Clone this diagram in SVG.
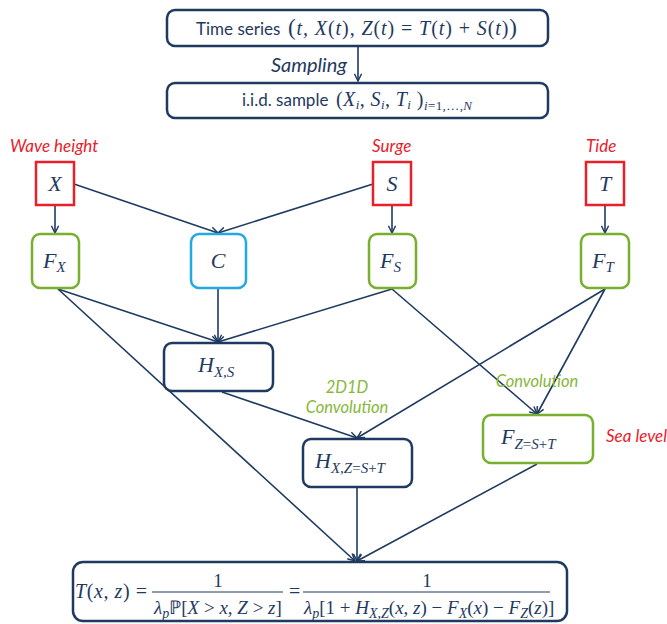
<svg xmlns="http://www.w3.org/2000/svg" width="667" height="624" viewBox="0 0 667 624">
<style>
.nv{fill:#fff;stroke:#1f3a60;stroke-width:2.5}
.rd{fill:#fff;stroke:#e8202a;stroke-width:2.5}
.gr{fill:#fff;stroke:#77b02e;stroke-width:2.5}
.bl{fill:#fff;stroke:#22a8e2;stroke-width:2.5}
.tx{font-family:Lato,"Liberation Sans",sans-serif;fill:#1f3a60}
.m{font-family:"Liberation Serif",serif;font-style:italic;fill:#1f3a60}
.mu{font-family:"Liberation Serif",serif;fill:#1f3a60}
.lr{font-family:Lato,"Liberation Sans",sans-serif;font-style:italic;fill:#e8202a;font-size:17px}
.lg{font-family:Lato,"Liberation Sans",sans-serif;font-style:italic;fill:#86b83a;font-size:16.5px}
.c{stroke:#1f3a60;stroke-width:1.6;fill:none;marker-end:url(#ah)}
</style>
<defs>
<marker id="ah" viewBox="0 0 10 10" refX="9" refY="5" markerWidth="9" markerHeight="9" markerUnits="userSpaceOnUse" orient="auto">
<path d="M1,1 L9,5 L1,9" fill="none" stroke="#1f3a60" stroke-width="1.6"/>
</marker>
</defs>
<rect width="667" height="624" fill="#fff"/>
<g id="connectors">
<line class="c" x1="358" y1="46" x2="358" y2="81"/>
<line class="c" x1="55" y1="206" x2="55" y2="233"/>
<line class="c" x1="74" y1="184" x2="218" y2="233"/>
<line class="c" x1="373" y1="184" x2="218" y2="233"/>
<line class="c" x1="392" y1="206" x2="392" y2="233"/>
<line class="c" x1="605" y1="206" x2="605" y2="233"/>
<line class="c" x1="218" y1="289" x2="218" y2="342"/>
<line class="c" x1="58" y1="289" x2="218" y2="342"/>
<line class="c" x1="392" y1="289" x2="218" y2="342"/>
<line class="c" x1="58" y1="289" x2="355" y2="561"/>
<line class="c" x1="392" y1="289" x2="537" y2="414"/>
<line class="c" x1="605" y1="289" x2="537" y2="414"/>
<line class="c" x1="605" y1="289" x2="357" y2="438"/>
<line class="c" x1="222" y1="392" x2="357" y2="438"/>
<line class="c" x1="357" y1="488" x2="357" y2="561"/>
<line class="c" x1="537" y1="464" x2="357" y2="561"/>
</g>
<text class="lg" x="309" y="72" style="fill:#1f3a60;font-size:20px" text-anchor="middle">Sampling</text>
<g id="timeseries">
<rect class="nv" x="167" y="10" width="381" height="36" rx="8"/>
<text class="tx" x="196" y="35" font-size="17">Time series</text>
<text x="288" y="35" textLength="229" lengthAdjust="spacing"><tspan class="mu" font-size="23">(</tspan><tspan class="m" font-size="20">t, X</tspan><tspan class="mu" font-size="20">(</tspan><tspan class="m" font-size="20">t</tspan><tspan class="mu" font-size="20">),</tspan><tspan class="m" font-size="20"> Z</tspan><tspan class="mu" font-size="20">(</tspan><tspan class="m" font-size="20">t</tspan><tspan class="mu" font-size="20">) = </tspan><tspan class="m" font-size="20">T</tspan><tspan class="mu" font-size="20">(</tspan><tspan class="m" font-size="20">t</tspan><tspan class="mu" font-size="20">) + </tspan><tspan class="m" font-size="20">S</tspan><tspan class="mu" font-size="20">(</tspan><tspan class="m" font-size="20">t</tspan><tspan class="mu" font-size="20">)</tspan><tspan class="mu" font-size="23">)</tspan></text>
</g>
<g id="sample">
<rect class="nv" x="167" y="83" width="381" height="35" rx="8"/>
<text class="tx" x="242" y="106" font-size="17">i.i.d. sample</text>
<text x="336" y="106" textLength="136" lengthAdjust="spacing"><tspan class="mu" font-size="20">(</tspan><tspan class="m" font-size="20">X</tspan><tspan class="m" font-size="13" dy="3">i</tspan><tspan class="mu" font-size="20" dy="-3">, </tspan><tspan class="m" font-size="20">S</tspan><tspan class="m" font-size="13" dy="3">i</tspan><tspan class="mu" font-size="20" dy="-3">, </tspan><tspan class="m" font-size="20">T</tspan><tspan class="m" font-size="13" dy="3">i</tspan><tspan class="mu" font-size="20" dy="-3"> )</tspan><tspan class="m" font-size="13" dy="4">i</tspan><tspan class="mu" font-size="13">=1,…,</tspan><tspan class="m" font-size="13">N</tspan></text>
</g>
<text class="lr" x="10" y="152">Wave height</text>
<text class="lr" x="372" y="152">Surge</text>
<text class="lr" x="586" y="152">Tide</text>
<g id="X">
<rect class="rd" x="36" y="162" width="38" height="43"/>
<text class="m" x="55" y="191" font-size="22" text-anchor="middle">X</text>
</g>
<g id="S">
<rect class="rd" x="373" y="162" width="38" height="43"/>
<text class="m" x="392" y="191" font-size="22" text-anchor="middle">S</text>
</g>
<g id="T">
<rect class="rd" x="586" y="162" width="38" height="43"/>
<text class="m" x="605" y="191" font-size="22" text-anchor="middle">T</text>
</g>
<g id="FX">
<rect class="gr" x="32" y="234" width="47" height="54" rx="8"/>
<text x="43" y="268"><tspan class="m" font-size="22">F</tspan><tspan class="m" font-size="15" dy="4">X</tspan></text>
</g>
<g id="C">
<rect class="bl" x="191" y="234" width="55" height="54" rx="8"/>
<text class="m" x="218" y="268" font-size="22" text-anchor="middle">C</text>
</g>
<g id="FS">
<rect class="gr" x="369" y="234" width="47" height="54" rx="8"/>
<text x="380" y="268"><tspan class="m" font-size="22">F</tspan><tspan class="m" font-size="15" dy="4">S</tspan></text>
</g>
<g id="FT">
<rect class="gr" x="581" y="234" width="48" height="54" rx="8"/>
<text x="592" y="268"><tspan class="m" font-size="22">F</tspan><tspan class="m" font-size="15" dy="4">T</tspan></text>
</g>
<g id="HXS">
<rect class="nv" x="164" y="343" width="109" height="48" rx="8"/>
<text x="198" y="372"><tspan class="m" font-size="22">H</tspan><tspan class="m" font-size="15" dy="5">X,S</tspan></text>
</g>
<text class="lg" x="347" y="393" text-anchor="middle">2D1D</text>
<text class="lg" x="347" y="413" text-anchor="middle">Convolution</text>
<text class="lg" x="537" y="387" text-anchor="middle">Convolution</text>
<g id="HXZ">
<rect class="nv" x="303" y="439" width="109" height="48" rx="8"/>
<text x="315" y="468"><tspan class="m" font-size="22">H</tspan><tspan class="m" font-size="15" dy="5">X,Z</tspan><tspan class="mu" font-size="15">=</tspan><tspan class="m" font-size="15">S</tspan><tspan class="mu" font-size="15">+</tspan><tspan class="m" font-size="15">T</tspan></text>
</g>
<g id="FZ">
<rect class="gr" x="483" y="415" width="110" height="48" rx="8"/>
<text x="501" y="444"><tspan class="m" font-size="22">F</tspan><tspan class="m" font-size="15" dy="5">Z</tspan><tspan class="mu" font-size="15">=</tspan><tspan class="m" font-size="15">S</tspan><tspan class="mu" font-size="15">+</tspan><tspan class="m" font-size="15">T</tspan></text>
</g>
<text class="lr" x="606" y="442">Sea level</text>
<g id="formula">
<rect class="nv" x="73" y="562" width="494" height="59" rx="10"/>
<text x="75" y="598" font-size="20" textLength="72" lengthAdjust="spacing"><tspan class="m">T</tspan><tspan class="mu">(</tspan><tspan class="m">x, z</tspan><tspan class="mu">) =</tspan></text>
<text class="mu" x="218" y="587" font-size="19" text-anchor="middle">1</text>
<line x1="152" y1="592" x2="283" y2="592" stroke="#1f3a60" stroke-width="1.2"/>
<text x="154" y="614" font-size="19"><tspan class="m">λ</tspan><tspan class="m" font-size="14" dy="4">p</tspan><tspan class="mu" dy="-4">ℙ[</tspan><tspan class="m">X</tspan><tspan class="mu"> &gt; </tspan><tspan class="m">x, Z</tspan><tspan class="mu"> &gt; </tspan><tspan class="m">z</tspan><tspan class="mu">]</tspan></text>
<text class="mu" x="289" y="598" font-size="20">=</text>
<text class="mu" x="427" y="587" font-size="19" text-anchor="middle">1</text>
<line x1="303" y1="592" x2="550" y2="592" stroke="#1f3a60" stroke-width="1.2"/>
<text x="304" y="614" font-size="19"><tspan class="m">λ</tspan><tspan class="m" font-size="14" dy="4">p</tspan><tspan class="mu" dy="-4">[1 + </tspan><tspan class="m">H</tspan><tspan class="m" font-size="14" dy="4">X,Z</tspan><tspan class="mu" dy="-4">(</tspan><tspan class="m">x, z</tspan><tspan class="mu">) − </tspan><tspan class="m">F</tspan><tspan class="m" font-size="14" dy="4">X</tspan><tspan class="mu" dy="-4">(</tspan><tspan class="m">x</tspan><tspan class="mu">) − </tspan><tspan class="m">F</tspan><tspan class="m" font-size="14" dy="4">Z</tspan><tspan class="mu" dy="-4">(</tspan><tspan class="m">z</tspan><tspan class="mu">)]</tspan></text>
</g>
</svg>
